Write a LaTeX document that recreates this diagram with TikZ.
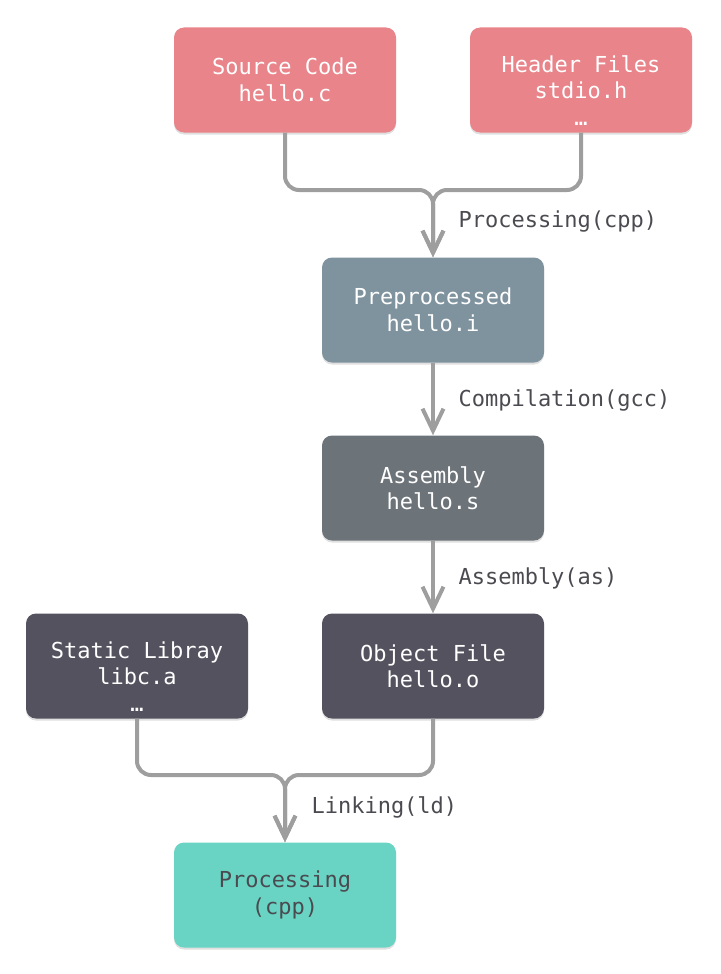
\documentclass[tikz,border=0pt]{standalone}
\usepackage{fontspec}
\setmonofont{DejaVu Sans Mono}
\usetikzlibrary{arrows.meta,shadows}
\definecolor{srcred}{HTML}{E8848A}
\definecolor{preblue}{HTML}{7F939F}
\definecolor{asmgray}{HTML}{6C7379}
\definecolor{objdark}{HTML}{54525E}
\definecolor{outteal}{HTML}{69D4C3}
\definecolor{conngray}{HTML}{9E9E9E}
\definecolor{lbltext}{HTML}{4A4A50}

\begin{document}
\begin{tikzpicture}[x=1pt,y=-1pt,font=\ttfamily\fontsize{22}{26.5}\selectfont,
  stage/.style={rounded corners=10pt,minimum width=222pt,minimum height=105pt,align=center,text=white,inner sep=0pt,
    drop shadow={opacity=.25,shadow xshift=0pt,shadow yshift=-2pt}},
  threeline/.style={text height=92pt,text depth=2pt},
  conn/.style={draw=conngray,line width=4pt,rounded corners=14pt,-{Straight Barb[length=22pt,width=21pt]}},
  steplbl/.style={anchor=west,text=lbltext}]
\useasboundingbox (0,0) rectangle (720,974);
% files going in
\node[stage,fill=srcred] (src) at (285,80) {Source Code\\hello.c};
\node[stage,threeline,fill=srcred] (hdr) at (581,80) {Header Files\\stdio.h\\…};
% build stages
\node[stage,fill=preblue] (pre) at (433,310) {Preprocessed\\hello.i};
\node[stage,fill=asmgray] (asm) at (433,488) {Assembly\\hello.s};
\node[stage,fill=objdark] (obj) at (433,666) {Object File\\hello.o};
\node[stage,threeline,fill=objdark] (lib) at (137,666) {Static Libray\\libc.a\\…};
\node[stage,fill=outteal,text=lbltext] (out) at (285,895) {Processing\\(cpp)};
% merge points
\coordinate (cpp) at (433,190);
\coordinate (ld) at (285,775);
\draw[conn] (src.south) |- (cpp) -- (pre.north);
\draw[conn] (hdr.south) |- (cpp) -- (pre.north);
\draw[conn] (pre) -- (asm);
\draw[conn] (asm) -- (obj);
\draw[conn] (lib.south) |- (ld) -- (out.north);
\draw[conn] (obj.south) |- (ld) -- (out.north);
\node[steplbl] (lcpp) at (455,222) {Processing(cpp)};
\node[steplbl] (lgcc) at (455,400) {Compilation(gcc)};
\node[steplbl] (las) at (455,578) {Assembly(as)};
\node[steplbl] (lld) at (308,807) {Linking(ld)};
\end{tikzpicture}
\end{document}
